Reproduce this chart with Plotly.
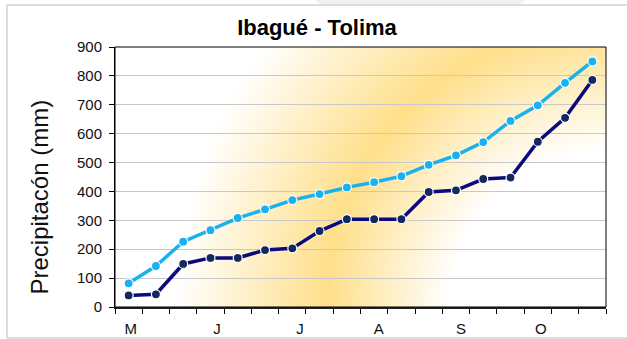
import base64
import plotly.graph_objects as go

# Accumulated precipitation (mm) per period, Ibagué - Tolima
periodos = list(range(18))
acumulado_normal = [82, 142, 226, 266, 308, 338, 370, 391, 414, 432, 453, 492, 525, 571, 644, 698, 776, 850]
acumulado_anio = [40, 44, 149, 170, 170, 197, 203, 263, 304, 304, 304, 398, 404, 443, 448, 572, 655, 786]
meses = ["M", "J", "J", "A", "S", "O"]
mes_pos = [0.08, 3.24, 6.28, 9.17, 12.18, 15.11]

W, H = 627, 339
L, R, T, B = 115, 21, 47, 32
PW, PH = W - L - R, H - T - B

NARROW = "Liberation Sans Narrow, Arial Narrow, Arial, sans-serif"


def px_x(v):
    return (v - L) / PW


def px_y(v):
    return (H - B - v) / PH


# Radial warm gradient anchored at the lower-right corner of the plot area
svg = f"""<svg xmlns='http://www.w3.org/2000/svg' width='{PW}' height='{PH}' viewBox='0 0 {PW} {PH}' preserveAspectRatio='none'>
<defs><radialGradient id='g' gradientUnits='userSpaceOnUse' cx='{PW}' cy='{PH}' r='430' fx='{PW}' fy='{PH}'>
<stop offset='0' stop-color='#ffffff'/>
<stop offset='0.36' stop-color='#ffffff'/>
<stop offset='0.65' stop-color='#fedf8a'/>
<stop offset='1' stop-color='#ffffff'/>
</radialGradient></defs>
<rect x='0' y='0' width='{PW}' height='{PH}' fill='url(#g)'/></svg>"""
bg_src = "data:image/svg+xml;base64," + base64.b64encode(svg.encode()).decode()

fig = go.Figure()
fig.add_trace(go.Scatter(
    x=periodos, y=acumulado_normal, mode="lines+markers",
    line=dict(color="#19b1ee", width=3.5),
    marker=dict(size=9, color="#19b1ee", line=dict(color="white", width=1.2)),
    showlegend=False, hoverinfo="skip",
))
fig.add_trace(go.Scatter(
    x=periodos, y=acumulado_anio, mode="lines+markers",
    line=dict(color="#0a0a80", width=3.5),
    marker=dict(size=9, color="#13295e", line=dict(color="white", width=1.2)),
    showlegend=False, hoverinfo="skip",
))

gray = "#d2d2d2"
shapes = [
    # plot frame
    dict(type="rect", xref="paper", yref="paper", x0=0, x1=1, y0=0, y1=1,
         line=dict(color="black", width=1), layer="above"),
    # outer chart frame
    dict(type="line", xref="paper", yref="paper", x0=px_x(7), x1=px_x(640), y0=px_y(5), y1=px_y(5),
         line=dict(color=gray, width=1.5)),
    dict(type="line", xref="paper", yref="paper", x0=px_x(7), x1=px_x(7), y0=px_y(5), y1=px_y(338),
         line=dict(color=gray, width=1.5)),
    dict(type="line", xref="paper", yref="paper", x0=px_x(7), x1=px_x(640), y0=px_y(338), y1=px_y(338),
         line=dict(color=gray, width=1.5)),
    # faint band above the frame
    dict(type="path", xref="paper", yref="paper",
         path=f"M {px_x(313)} {px_y(-2)} L {px_x(528)} {px_y(-2)} L {px_x(520)} {px_y(4.3)} L {px_x(320)} {px_y(4.3)} Z",
         fillcolor="#eef2f1", line=dict(width=0), layer="below"),
]

fig.update_layout(
    width=W, height=H,
    margin=dict(l=L, r=R, t=T, b=B),
    paper_bgcolor="white", plot_bgcolor="rgba(0,0,0,0)",
    font=dict(family="Arial, Liberation Sans, sans-serif", color="#222222", size=13),
    title=dict(text="<b>Ibagué - Tolima</b>", x=317 / W, xref="container", xanchor="center",
               y=1 - 27.5 / H, yref="container", yanchor="middle",
               font=dict(size=22, color="black", family="Arial, Liberation Sans, sans-serif")),
    images=[dict(source=bg_src, xref="paper", yref="paper", x=0, y=1, sizex=1, sizey=1,
                 xanchor="left", yanchor="top", sizing="stretch", layer="below")],
    shapes=shapes,
    annotations=[dict(text="Precipitacón (mm)", textangle=-90, xref="paper", yref="paper",
                      x=px_x(39), y=px_y(197.5), xanchor="center", yanchor="middle",
                      showarrow=False, font=dict(size=24, color="#111111"))],
)

fig.update_xaxes(
    range=[-0.5, len(periodos) - 0.5],
    tickmode="array", tickvals=mes_pos, ticktext=meses,
    ticks="", ticklen=0, showgrid=False, zeroline=False,
    showline=True, linecolor="#222222", linewidth=2,
    ticklabelstandoff=7, automargin=False,
    tickfont=dict(size=15, color="#111111", family=NARROW),
    minor=dict(tickmode="array", tickvals=[i - 0.5 for i in range(len(periodos) + 1)],
               ticks="outside", ticklen=5, tickcolor="black", tickwidth=1, showgrid=False),
)
fig.update_yaxes(
    range=[0, 900], tickmode="linear", tick0=0, dtick=100,
    ticks="outside", ticklen=5, tickcolor="black",
    ticklabelstandoff=4, automargin=False,
    showgrid=True, gridcolor="#c8c8c8", gridwidth=1, zeroline=False,
    showline=True, linecolor="black", linewidth=1,
    tickfont=dict(size=15, color="#111111", family=NARROW),
)

fig.write_html("out.html")
